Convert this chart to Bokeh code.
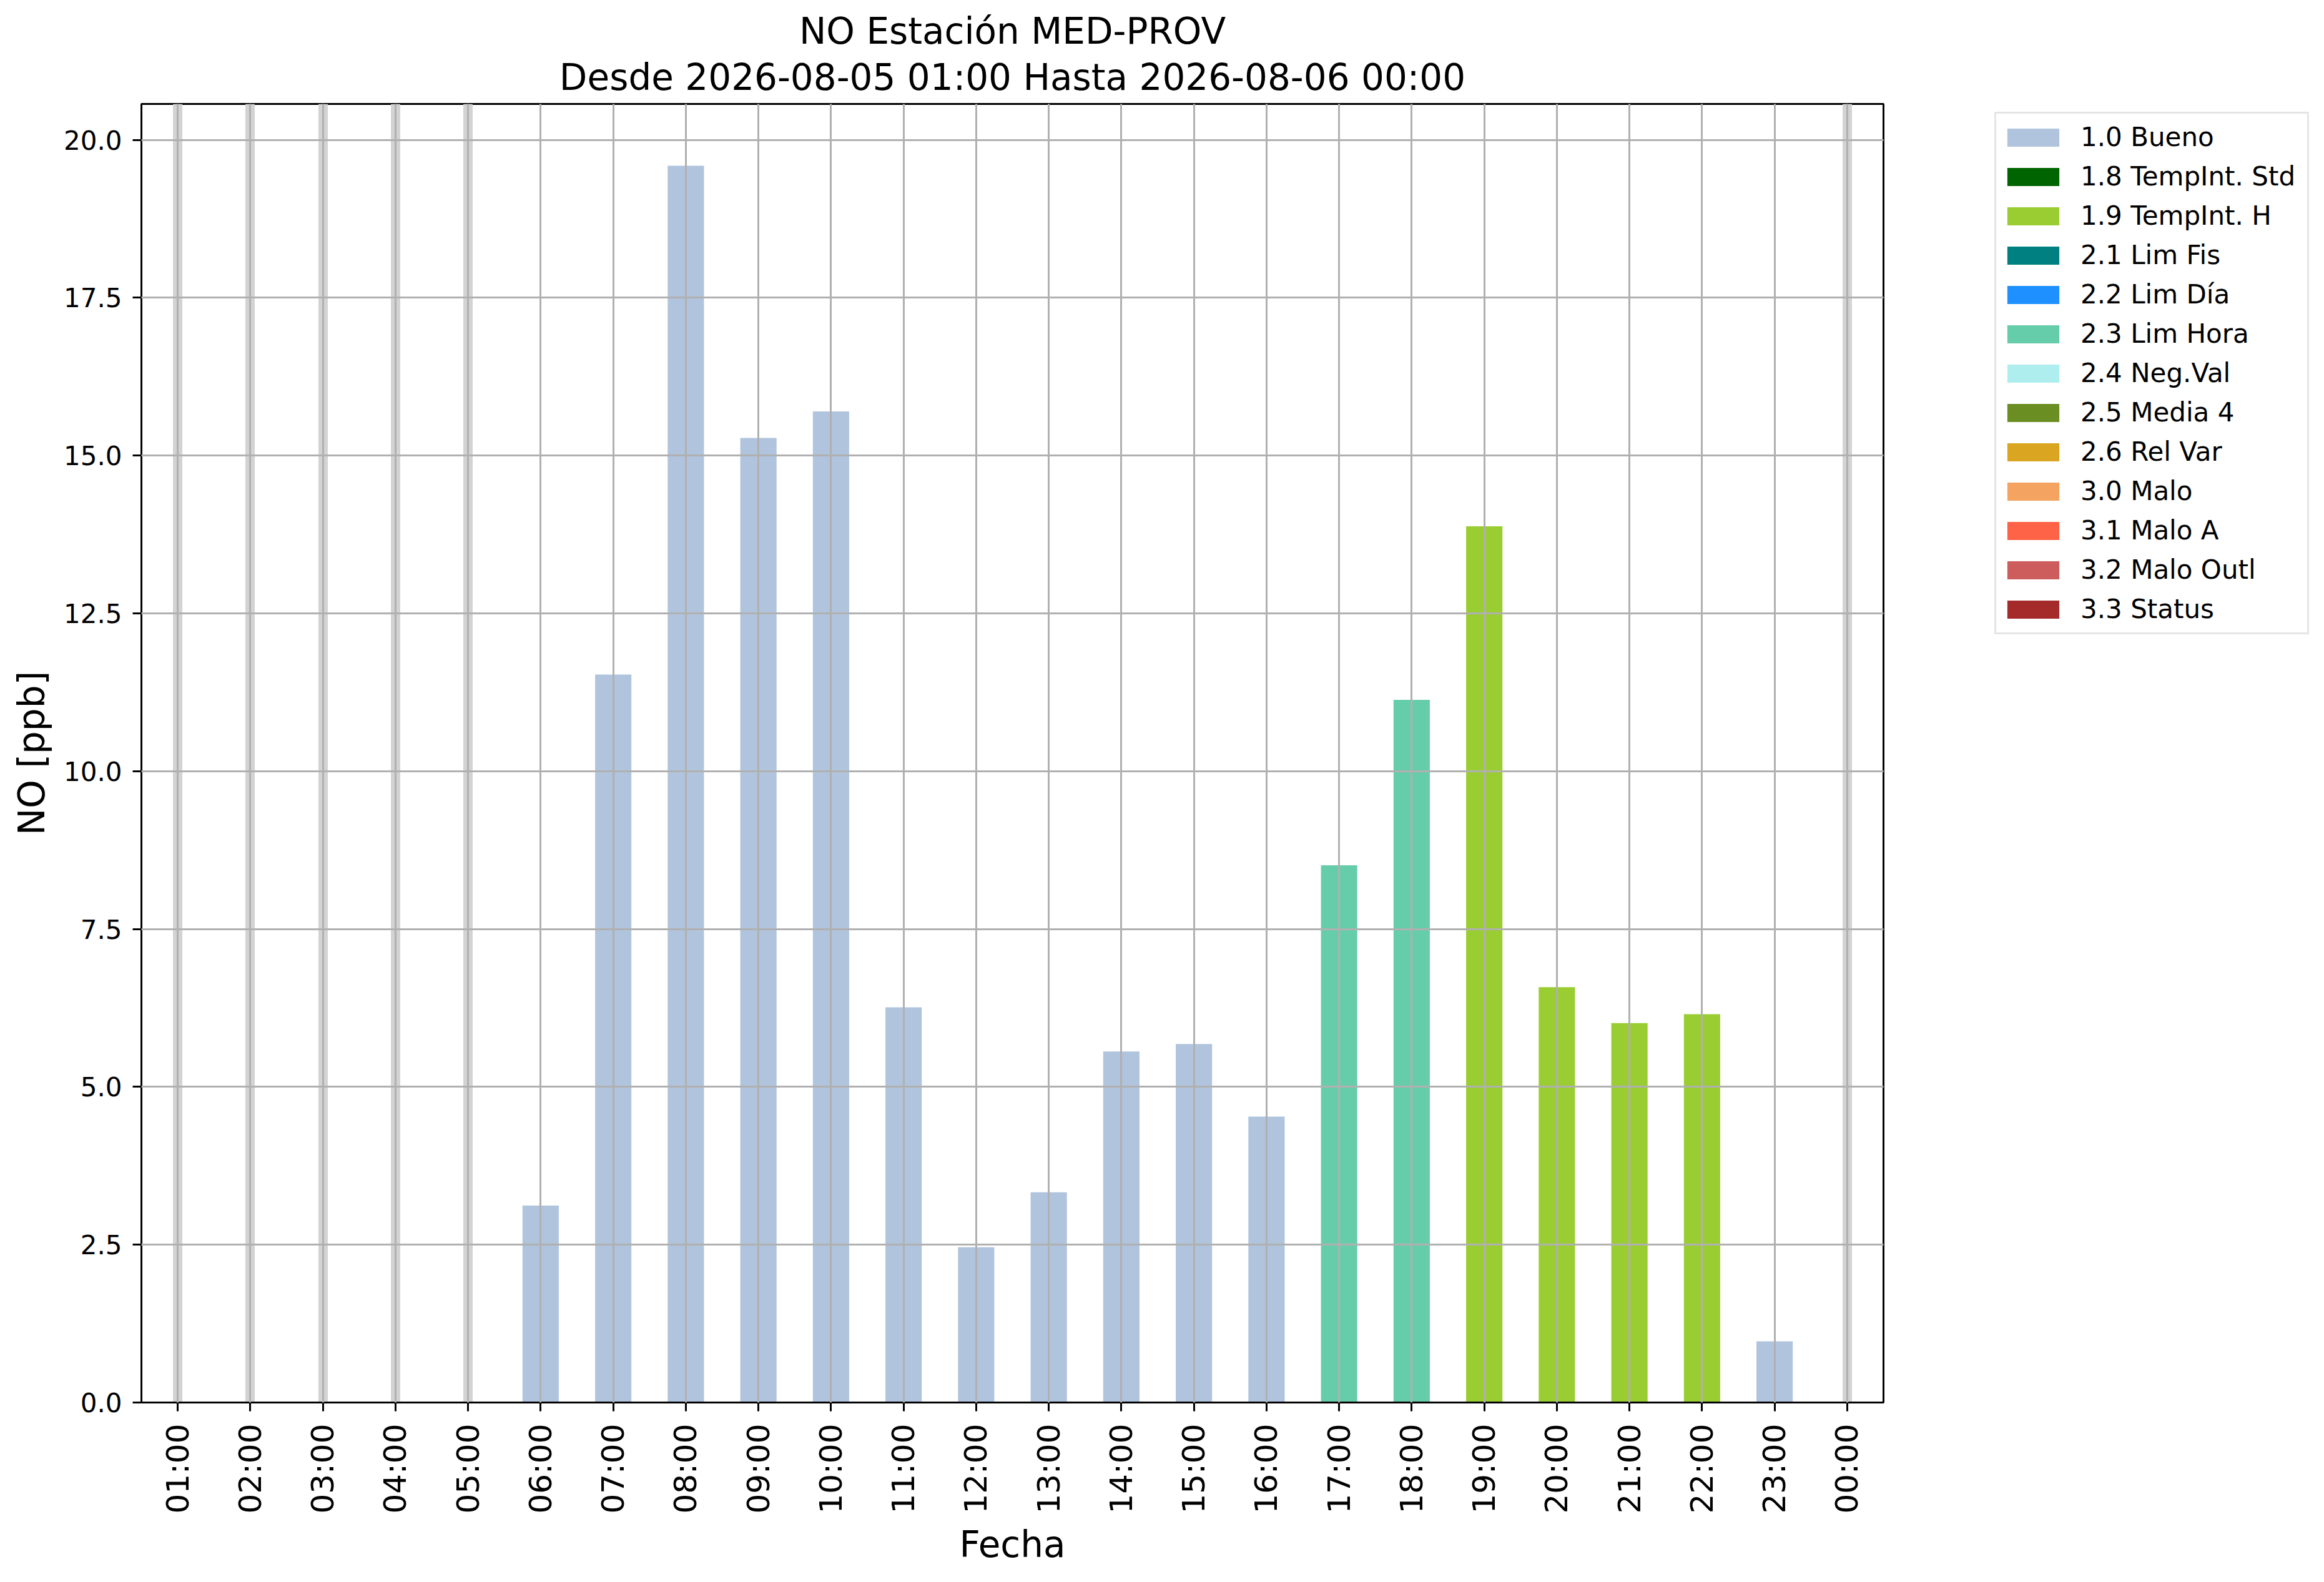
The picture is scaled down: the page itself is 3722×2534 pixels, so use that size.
import math
from bokeh.plotting import figure
from bokeh.layouts import row
from bokeh.models import (Range1d, FixedTicker, SingleIntervalTicker, PrintfTickFormatter,
                          Legend, LegendItem, ColumnDataSource, Title)
from bokeh.embed import file_html
from bokeh.resources import INLINE

# ---------------- data ----------------
hours = ["01:00", "02:00", "03:00", "04:00", "05:00", "06:00", "07:00", "08:00",
         "09:00", "10:00", "11:00", "12:00", "13:00", "14:00", "15:00", "16:00",
         "17:00", "18:00", "19:00", "20:00", "21:00", "22:00", "23:00", "00:00"]
values = [None, None, None, None, None, 3.12, 11.53, 19.59,
          15.28, 15.70, 6.26, 2.46, 3.33, 5.56, 5.68, 4.53,
          8.51, 11.13, 13.88, 6.58, 6.01, 6.15, 0.97, None]
flags = [None, None, None, None, None, "1.0", "1.0", "1.0",
         "1.0", "1.0", "1.0", "1.0", "1.0", "1.0", "1.0", "1.0",
         "2.3", "2.3", "1.9", "1.9", "1.9", "1.9", "1.0", None]

flag_codes = ["1.0", "1.8", "1.9", "2.1", "2.2", "2.3", "2.4", "2.5", "2.6",
              "3.0", "3.1", "3.2", "3.3"]
flag_names = ["Bueno", "TempInt. Std", "TempInt. H", "Lim Fis", "Lim Día", "Lim Hora",
              "Neg.Val", "Media 4", "Rel Var", "Malo", "Malo A", "Malo Outl", "Status"]
flag_colors = ["#b0c4de", "#006400", "#9acd32", "#008080", "#1e90ff", "#66cdaa",
               "#afeeee", "#6b8e23", "#daa520", "#f4a460", "#ff6347", "#cd5c5c", "#a52a2a"]

title_line1 = "NO Estación MED-PROV"
title_line2 = "Desde 2026-08-05 01:00 Hasta 2026-08-06 00:00"
y_label = "NO [ppb]"
x_label = "Fecha"

FONT = "DejaVu Sans"
NAN = float("nan")

# ---------------- main figure ----------------
n = len(hours)
ymax = max(v for v in values if v is not None) * 1.05

W_MAIN = 3040
p = figure(width=W_MAIN, height=2534, output_backend="svg", toolbar_location=None,
           x_range=Range1d(-0.5, n - 0.5), y_range=Range1d(0, ymax),
           min_border_left=226, min_border_right=24, min_border_top=166,
           min_border_bottom=288)
p.background_fill_color = "white"
p.border_fill_color = "white"
p.outline_line_color = "black"
p.outline_line_width = 3

# missing-data markers
missing_x = [i for i, v in enumerate(values) if v is None]
p.vspan(x="x", source=ColumnDataSource(dict(x=missing_x)),
        line_color="#d3d3d3", line_width=15)

# bars by flag
for code, color in zip(flag_codes, flag_colors):
    xs = [i for i, (v, f) in enumerate(zip(values, flags)) if f == code and v is not None]
    ys = [values[i] for i in xs]
    if xs:
        p.vbar(x="x", top="top", bottom=0, width=0.5,
               source=ColumnDataSource(dict(x=xs, top=ys)),
               fill_color=color, line_color=None)

# axes
p.xaxis.ticker = FixedTicker(ticks=list(range(n)))
p.xaxis.major_label_overrides = {i: h for i, h in enumerate(hours)}
p.xaxis.major_label_orientation = math.pi / 2
p.yaxis.ticker = SingleIntervalTicker(interval=2.5)
p.yaxis.formatter = PrintfTickFormatter(format="%.1f")

for ax in (p.xaxis[0], p.yaxis[0]):
    ax.axis_line_color = "black"
    ax.axis_line_width = 3
    ax.major_tick_line_color = "black"
    ax.major_tick_line_width = 3
    ax.major_tick_out = 14
    ax.major_tick_in = 0
    ax.minor_tick_line_color = None
    ax.major_label_text_font = FONT
    ax.axis_label_text_font = FONT
    ax.axis_label_text_font_style = "normal"
    ax.axis_label_text_font_size = "58px"
    ax.axis_label_text_color = "black"
    ax.major_label_text_color = "black"

p.xaxis.major_label_text_font_size = "50px"
p.yaxis.major_label_text_font_size = "42px"
p.xaxis.major_label_standoff = 20
p.yaxis.major_label_standoff = 17
p.xaxis.axis_label = x_label
p.yaxis.axis_label = y_label
p.xaxis.axis_label_standoff = 12
p.yaxis.axis_label_standoff = 14

# grid over bars
p.grid.grid_line_color = "#b0b0b0"
p.grid.grid_line_width = 3
p.grid.level = "guide"

# titles (line 2 added first: it sits next to the frame)
p.add_layout(Title(text=title_line2, align="center", text_font=FONT,
                   text_font_size="58px", text_font_style="normal",
                   text_color="black", standoff=18), "above")
p.add_layout(Title(text=title_line1, align="center", text_font=FONT,
                   text_font_size="58px", text_font_style="normal",
                   text_color="black", standoff=-11), "above")

# ---------------- legend panel ----------------
W_LEG = 3722 - W_MAIN
q = figure(width=W_LEG, height=2534, output_backend="svg", toolbar_location=None,
           x_range=Range1d(0, 1), y_range=Range1d(0, 1),
           x_axis_location=None, y_axis_location=None,
           min_border_left=0, min_border_right=0, min_border_top=0, min_border_bottom=0)
q.outline_line_color = None
q.grid.visible = False
q.background_fill_color = "white"
q.border_fill_color = "white"

items = []
for code, name, color in zip(flag_codes, flag_names, flag_colors):
    r = q.vbar(x="x", top="top", bottom=0, width=0.5,
               source=ColumnDataSource(dict(x=[NAN], top=[NAN])),
               fill_color=color, line_color=None)
    items.append(LegendItem(label=f"{code} {name}", renderers=[r]))

# the row aligns this frame with the main frame (bottom at 2246)
legend = Legend(items=items, location=(3194 - W_MAIN, 2246 - 1016),
                label_text_font=FONT, label_text_font_size="42px",
                label_text_color="black",
                glyph_width=104, glyph_height=36, label_height=61, label_width=356,
                label_standoff=24, spacing=2, padding=7, margin=0,
                border_line_color="#cccccc", border_line_width=3,
                background_fill_color="white", background_fill_alpha=0.8)
q.add_layout(legend, "center")

layout = row(p, q)
open("out.html", "w").write(file_html(layout, INLINE))
